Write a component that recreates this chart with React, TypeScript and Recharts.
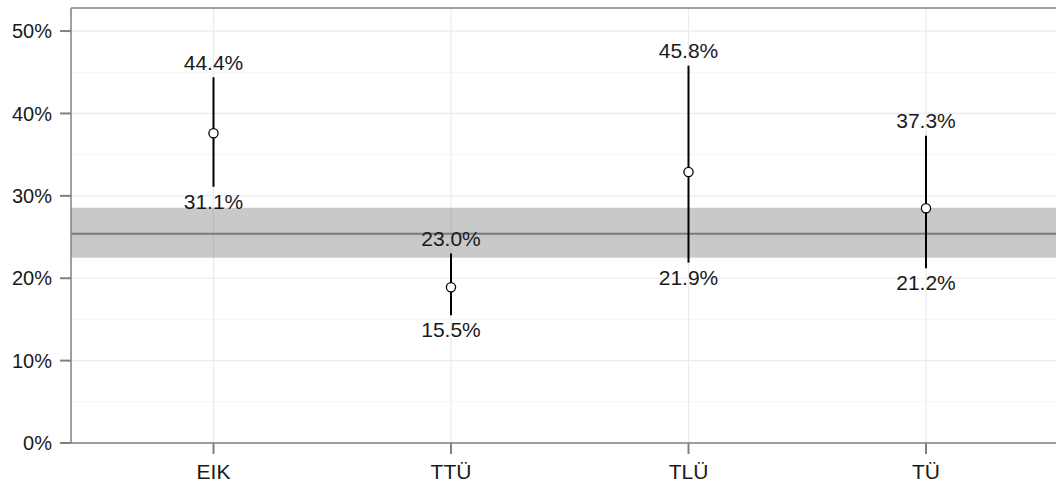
import React from 'react';
import {
  ScatterChart,
  Scatter,
  XAxis,
  YAxis,
  ErrorBar,
  LabelList,
  ReferenceLine,
  ReferenceArea,
  CartesianGrid,
} from 'recharts';

const categories = ['EIK', 'TTÜ', 'TLÜ', 'TÜ'];
const estimates = [37.6, 18.9, 32.9, 28.5];
const lowerBounds = [31.1, 15.5, 21.9, 21.2];
const upperBounds = [44.4, 23.0, 45.8, 37.3];

const overallMean = 25.4;
const overallLow = 22.5;
const overallHigh = 28.55;

const yTicks = [0, 10, 20, 30, 40, 50];
const yMinor = [5, 15, 25, 35, 45];
const xTicks = [1, 2, 3, 4];

const FONT = '"Liberation Sans", Arial, sans-serif';
const AXIS_GREY = '#808080';

const pointData = categories.map((c, i) => ({
  x: i + 1,
  y: estimates[i],
  err: [estimates[i] - lowerBounds[i], upperBounds[i] - estimates[i]],
}));
const upperData = categories.map((c, i) => ({ x: i + 1, y: upperBounds[i], label: `${upperBounds[i].toFixed(1)}%` }));
const lowerData = categories.map((c, i) => ({ x: i + 1, y: lowerBounds[i], label: `${lowerBounds[i].toFixed(1)}%` }));

const makeLabel = (dy: number) => (props: any) => {
  const { x, y, width, height, value } = props;
  return (
    <text
      x={Number(x) + Number(width) / 2}
      y={Number(y) + Number(height) / 2 + dy}
      textAnchor="middle"
      fontSize={21}
      fontFamily={FONT}
      fill="#1a1a1a"
    >
      {value}
    </text>
  );
};

const Dot = (props: any) => {
  const { cx, cy } = props;
  return <circle cx={cx} cy={cy} r={4.6} fill="#fff" stroke="#000" strokeWidth={1.3} />;
};

const Empty = () => <g />;

export default function App() {
  return (
    <div style={{ position: 'absolute', left: 0, top: 0, width: 1056, height: 484, overflow: 'hidden', background: '#fff' }}>
      <ScatterChart width={1070} height={484} margin={{ top: 8, right: 1.5, bottom: 0, left: 0 }}>
        <CartesianGrid horizontalValues={yMinor} vertical={false} stroke="#f4f4f4" strokeWidth={1} />
        <CartesianGrid horizontalValues={yTicks} verticalValues={xTicks} stroke="#ebebeb" strokeWidth={1.2} />
        <XAxis
          type="number"
          dataKey="x"
          domain={[0.4, 4.6]}
          ticks={xTicks}
          allowDataOverflow
          height={41}
          tickFormatter={(v: number) => categories[v - 1]}
          tick={{ fontSize: 21, fontFamily: FONT, fill: '#1a1a1a' }}
          tickSize={11}
          tickMargin={10}
          axisLine={{ stroke: AXIS_GREY, strokeWidth: 1.5 }}
          tickLine={{ stroke: AXIS_GREY, strokeWidth: 2 }}
        />
        <YAxis
          type="number"
          dataKey="y"
          domain={[0, 52.8]}
          ticks={yTicks}
          allowDataOverflow
          width={71}
          tickFormatter={(v: number) => `${v}%`}
          tick={{ fontSize: 20, fontFamily: FONT, fill: '#1a1a1a' }}
          tickSize={11}
          tickMargin={8}
          axisLine={{ stroke: AXIS_GREY, strokeWidth: 1.5 }}
          tickLine={{ stroke: AXIS_GREY, strokeWidth: 2 }}
        />
        <ReferenceLine y={52.8} stroke={AXIS_GREY} strokeWidth={1.5} />
        <ReferenceArea y1={overallLow} y2={overallHigh} fill="#000" fillOpacity={0.21} stroke="none" />
        <ReferenceLine y={overallMean} stroke="#7a7a7a" strokeWidth={2} />
        <Scatter data={upperData} shape={Empty} isAnimationActive={false}>
          <LabelList dataKey="label" content={makeLabel(-7.5)} />
        </Scatter>
        <Scatter data={lowerData} shape={Empty} isAnimationActive={false}>
          <LabelList dataKey="label" content={makeLabel(22)} />
        </Scatter>
        <Scatter data={pointData} shape={Dot} isAnimationActive={false}>
          <ErrorBar dataKey="err" direction="y" width={0} stroke="#000" strokeWidth={2} isAnimationActive={false} />
        </Scatter>
      </ScatterChart>
    </div>
  );
}
